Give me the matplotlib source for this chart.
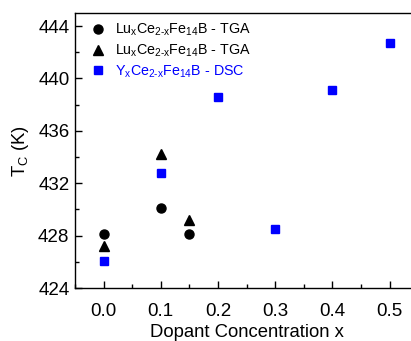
import matplotlib

matplotlib.use("Agg")
import matplotlib.pyplot as plt
from matplotlib.ticker import MultipleLocator

plt.rcParams["font.family"] = ["Liberation Sans", "DejaVu Sans"]
plt.rcParams["mathtext.fontset"] = "custom"
plt.rcParams["mathtext.rm"] = "Liberation Sans"
plt.rcParams["mathtext.it"] = "Liberation Sans:italic"

# Lu-doped, TGA (two runs)
lu_x_1 = [0.0, 0.1, 0.15]
lu_tc_1 = [428.1, 430.1, 428.1]
lu_x_2 = [0.0, 0.1, 0.15]
lu_tc_2 = [427.2, 434.2, 429.2]
# Y-doped, DSC
y_x = [0.0, 0.1, 0.2, 0.3, 0.4, 0.5]
y_tc = [426.1, 432.8, 438.6, 428.5, 439.1, 442.7]

mavi = "#0000ff"

fig = plt.figure(figsize=(4.11, 3.41), dpi=100)
ax = fig.add_axes([0.1825, 0.1554, 0.835, 0.8065])

ax.plot(lu_x_1, lu_tc_1, "o", color="black", ms=6.5, ls="none",
        label=r"Lu$_\mathrm{x}$Ce$_\mathrm{2\text{-}x}$Fe$_\mathrm{14}$B - TGA")
ax.plot(lu_x_2, lu_tc_2, "^", color="black", ms=7, ls="none",
        label=r"Lu$_\mathrm{x}$Ce$_\mathrm{2\text{-}x}$Fe$_\mathrm{14}$B - TGA")
ax.plot(y_x, y_tc, "s", color=mavi, ms=5.5, ls="none",
        label=r"Y$_\mathrm{x}$Ce$_\mathrm{2\text{-}x}$Fe$_\mathrm{14}$B - DSC")

ax.set_xlim(-0.05, 0.55)
ax.set_ylim(424, 445)
ax.xaxis.set_major_locator(MultipleLocator(0.1))
ax.xaxis.set_minor_locator(MultipleLocator(0.05))
ax.yaxis.set_major_locator(MultipleLocator(4))
ax.yaxis.set_minor_locator(MultipleLocator(2))
ax.tick_params(which="both", direction="in", labelsize=13.5)
ax.tick_params(which="major", length=5, width=1)
ax.tick_params(which="minor", length=3, width=1)
ax.tick_params(axis="x", pad=11)
ax.tick_params(axis="y", pad=4)
ax.spines["right"].set_visible(False)
for s in ax.spines.values():
    s.set_linewidth(1.0)

ax.set_xlabel("Dopant Concentration x", fontsize=13.3, labelpad=3)
ax.set_ylabel(r"T$_\mathrm{C}$ (K)", fontsize=13.3, labelpad=5)

leg = ax.legend(loc="upper left", frameon=False, fontsize=10.3, handlelength=1.0,
                handletextpad=0.65, labelspacing=0.3, borderaxespad=0.0,
                bbox_to_anchor=(0.03, 0.988))
leg.get_texts()[2].set_color(mavi)

fig.savefig("out.png", dpi=100)
